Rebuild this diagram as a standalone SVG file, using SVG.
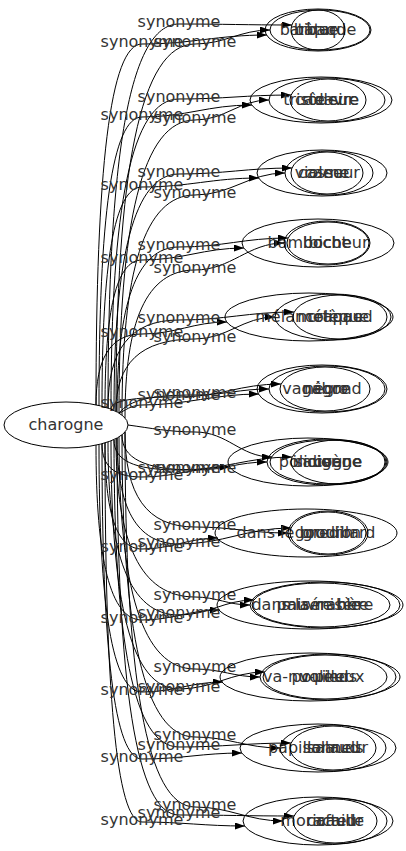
<svg xmlns="http://www.w3.org/2000/svg" width="406" height="851" viewBox="0 0 406 851">
<defs>
<marker id="ah" markerWidth="10" markerHeight="7" refX="10" refY="3.5" orient="auto" markerUnits="userSpaceOnUse"><path d="M0,0 L10,3.5 L0,7 z" fill="#000"/></marker>
<style>
.e{fill:none;stroke:#000;stroke-width:1;marker-end:url(#ah)}
.n{fill:none;stroke:#000;stroke-width:1}
.t{font-family:"DejaVu Sans",sans-serif;font-size:16px;fill:#333;text-anchor:middle}
</style>
</defs>
<rect width="406" height="851" fill="#fff"/>
<g id="edges">
<path class="e" d="M108 408 C108 158 129 24 179 24 C224 24 247 25 292 25"/>
<path class="e" d="M96 405 C96 170 110 44 142 44 C192 44 217 35 267 35"/>
<path class="e" d="M116 411 C116 172 140 44 195 44 C225 44 240 30 270 30"/>
<path class="e" d="M111 409 C111 208 131 99 179 99 C224 99 246 95 291 95"/>
<path class="e" d="M99 406 C99 218 112 117 142 117 C186 117 208 105 252 105"/>
<path class="e" d="M119 413 C119 223 142 120 195 120 C225 120 239 100 269 100"/>
<path class="e" d="M114 410 C114 257 134 174 179 174 C224 174 247 168 292 168"/>
<path class="e" d="M102 406 C102 264 114 187 142 187 C189 187 212 178 259 178"/>
<path class="e" d="M122 415 C122 272 144 195 195 195 C231 195 249 173 285 173"/>
<path class="e" d="M117 412 C117 305 136 247 179 247 C223 247 244 238 288 238"/>
<path class="e" d="M105 407 C105 311 116 260 142 260 C183 260 203 248 244 248"/>
<path class="e" d="M125 418 C125 322 146 270 195 270 C231 270 248 243 284 243"/>
<path class="e" d="M108 408 C108 351 129 320 179 320 C225 320 248 312 294 312"/>
<path class="e" d="M96 405 C96 359 110 334 142 334 C176 334 193 322 227 322"/>
<path class="e" d="M116 411 C116 364 140 339 195 339 C227 339 243 317 275 317"/>
<path class="e" d="M111 409 C111 401 131 397 179 397 C220 397 240 384 281 384"/>
<path class="e" d="M120 413 C128 408 134 405 142 405 C186 405 215 394 259 394"/>
<path class="e" d="M119 413 C130 400 150 395 195 395 C225 395 239 389 269 389"/>
<path class="e" d="M114 440 C114 460 133 470 179 470 C224 470 247 457 292 457"/>
<path class="e" d="M102 444 C102 466 114 477 142 477 C177 477 195 467 230 467"/>
<path class="e" d="M122 435 C122 458 144 470 195 470 C224 470 238 462 267 462"/>
<path class="e" d="M128 425 C150 428 170 432 195 432 C228 432 240 457 272 457"/>
<path class="e" d="M117 438 C117 507 136 544 179 544 C224 544 246 528 291 528"/>
<path class="e" d="M105 443 C105 512 116 549 142 549 C172 549 188 538 218 538"/>
<path class="e" d="M125 432 C125 494 146 527 195 527 C232 527 251 533 288 533"/>
<path class="e" d="M108 442 C108 554 129 615 179 615 C209 615 224 600 254 600"/>
<path class="e" d="M96 445 C96 559 110 620 142 620 C173 620 189 610 220 610"/>
<path class="e" d="M116 439 C116 542 140 597 195 597 C217 597 228 605 250 605"/>
<path class="e" d="M111 441 C111 602 131 689 179 689 C213 689 231 672 265 672"/>
<path class="e" d="M99 445 C99 606 112 692 142 692 C174 692 191 682 223 682"/>
<path class="e" d="M119 437 C119 588 142 669 195 669 C221 669 234 677 260 677"/>
<path class="e" d="M114 440 C114 640 133 747 179 747 C224 747 246 743 291 743"/>
<path class="e" d="M102 444 C102 649 114 759 142 759 C182 759 202 753 242 753"/>
<path class="e" d="M122 435 C122 631 144 737 195 737 C229 737 246 748 280 748"/>
<path class="e" d="M117 438 C117 683 136 815 179 815 C225 815 248 816 294 816"/>
<path class="e" d="M105 443 C105 689 116 822 142 822 C183 822 204 826 245 826"/>
<path class="e" d="M125 432 C125 676 146 807 195 807 C230 807 248 821 283 821"/>
</g>
<g id="edge-labels">
<text class="t" x="179" y="27">synonyme</text>
<text class="t" x="142" y="47">synonyme</text>
<text class="t" x="195" y="47">synonyme</text>
<text class="t" x="179" y="102">synonyme</text>
<text class="t" x="142" y="120">synonyme</text>
<text class="t" x="195" y="123">synonyme</text>
<text class="t" x="179" y="177">synonyme</text>
<text class="t" x="142" y="190">synonyme</text>
<text class="t" x="195" y="198">synonyme</text>
<text class="t" x="179" y="250">synonyme</text>
<text class="t" x="142" y="263">synonyme</text>
<text class="t" x="195" y="273">synonyme</text>
<text class="t" x="179" y="323">synonyme</text>
<text class="t" x="142" y="337">synonyme</text>
<text class="t" x="195" y="342">synonyme</text>
<text class="t" x="179" y="400">synonyme</text>
<text class="t" x="142" y="408">synonyme</text>
<text class="t" x="195" y="398">synonyme</text>
<text class="t" x="179" y="473">synonyme</text>
<text class="t" x="142" y="480">synonyme</text>
<text class="t" x="195" y="473">synonyme</text>
<text class="t" x="195" y="435">synonyme</text>
<text class="t" x="179" y="547">synonyme</text>
<text class="t" x="142" y="552">synonyme</text>
<text class="t" x="195" y="530">synonyme</text>
<text class="t" x="179" y="618">synonyme</text>
<text class="t" x="142" y="623">synonyme</text>
<text class="t" x="195" y="600">synonyme</text>
<text class="t" x="179" y="692">synonyme</text>
<text class="t" x="142" y="695">synonyme</text>
<text class="t" x="195" y="672">synonyme</text>
<text class="t" x="179" y="750">synonyme</text>
<text class="t" x="142" y="762">synonyme</text>
<text class="t" x="195" y="740">synonyme</text>
<text class="t" x="179" y="818">synonyme</text>
<text class="t" x="142" y="825">synonyme</text>
<text class="t" x="195" y="810">synonyme</text>
</g>
<g id="charogne"><ellipse class="n" cx="66" cy="425" rx="62" ry="23"/><text class="t" x="66" y="430">charogne</text></g>
<g id="n1a"><ellipse class="n" cx="318" cy="30" rx="53" ry="21"/><text class="t" x="318" y="35">barbaque</text></g>
<g id="n1b"><ellipse class="n" cx="320" cy="30" rx="50" ry="20"/><text class="t" x="320" y="35">bâtard</text></g>
<g id="n1c"><ellipse class="n" cx="318" cy="30" rx="27" ry="20"/><text class="t" x="318" y="35">tique</text></g>
<g id="n2a"><ellipse class="n" cx="321" cy="100" rx="71" ry="23"/><text class="t" x="321" y="105">triste sire</text></g>
<g id="n2b"><ellipse class="n" cx="327" cy="100" rx="58" ry="22"/><text class="t" x="327" y="105">cadavre</text></g>
<g id="n2c"><ellipse class="n" cx="328" cy="100" rx="38" ry="21"/><text class="t" x="328" y="105">rôdeur</text></g>
<g id="n3a"><ellipse class="n" cx="322" cy="173" rx="65" ry="23"/><text class="t" x="322" y="178">violeur</text></g>
<g id="n3b"><ellipse class="n" cx="329" cy="173" rx="44" ry="22"/><text class="t" x="329" y="178">casseur</text></g>
<g id="n3c"><ellipse class="n" cx="327" cy="173" rx="36" ry="21"/><text class="t" x="327" y="178">carne</text></g>
<g id="n4a"><ellipse class="n" cx="318" cy="243" rx="76" ry="24"/><text class="t" x="318" y="248">bambocheur</text></g>
<g id="n4b"><ellipse class="n" cx="327" cy="243" rx="43" ry="22"/><text class="t" x="327" y="248">boche</text></g>
<g id="n4c"><ellipse class="n" cx="328" cy="243" rx="41" ry="21"/><text class="t" x="328" y="248">bicot</text></g>
<g id="n5a"><ellipse class="n" cx="309" cy="317" rx="84" ry="24"/><text class="t" x="309" y="322">mélancolique</text></g>
<g id="n5b"><ellipse class="n" cx="333" cy="317" rx="58" ry="23"/><text class="t" x="333" y="322">métèque</text></g>
<g id="n5c"><ellipse class="n" cx="340" cy="317" rx="47" ry="22"/><text class="t" x="340" y="322">crapaud</text></g>
<g id="n6a"><ellipse class="n" cx="322" cy="389" rx="65" ry="24"/><text class="t" x="322" y="394">vagabond</text></g>
<g id="n6b"><ellipse class="n" cx="327" cy="389" rx="58" ry="23"/><text class="t" x="327" y="394">nègre</text></g>
<g id="n6c"><ellipse class="n" cx="325" cy="389" rx="45" ry="22"/><text class="t" x="325" y="394">négro</text></g>
<g id="n7a"><ellipse class="n" cx="308" cy="462" rx="80" ry="24"/><text class="t" x="308" y="467">policier</text></g>
<g id="n7b"><ellipse class="n" cx="327" cy="462" rx="60" ry="23"/><text class="t" x="327" y="467">indigène</text></g>
<g id="n7c"><ellipse class="n" cx="328" cy="462" rx="58" ry="22"/><text class="t" x="328" y="467">sauvage</text></g>
<g id="n7d"><ellipse class="n" cx="338" cy="462" rx="47" ry="22"/><text class="t" x="338" y="467">cogne</text></g>
<g id="n8a"><ellipse class="n" cx="306" cy="533" rx="91" ry="24"/><text class="t" x="306" y="538">dans le brouillard</text></g>
<g id="n8b"><ellipse class="n" cx="328" cy="533" rx="40" ry="22"/><text class="t" x="328" y="538">gredin</text></g>
<g id="n8c"><ellipse class="n" cx="328" cy="533" rx="38" ry="21"/><text class="t" x="328" y="538">goudron</text></g>
<g id="n9a"><ellipse class="n" cx="310" cy="605" rx="93" ry="24"/><text class="t" x="310" y="610">dans la misère</text></g>
<g id="n9b"><ellipse class="n" cx="325" cy="605" rx="75" ry="23"/><text class="t" x="325" y="610">pauvre hère</text></g>
<g id="n9c"><ellipse class="n" cx="321" cy="605" rx="69" ry="22"/><text class="t" x="321" y="610">misérable</text></g>
<g id="n10a"><ellipse class="n" cx="310" cy="677" rx="90" ry="24"/><text class="t" x="310" y="682">va-nu-pieds</text></g>
<g id="n10b"><ellipse class="n" cx="328" cy="677" rx="68" ry="23"/><text class="t" x="328" y="682">pouilleux</text></g>
<g id="n10c"><ellipse class="n" cx="325" cy="677" rx="62" ry="22"/><text class="t" x="325" y="682">voleur</text></g>
<g id="n11a"><ellipse class="n" cx="318" cy="748" rx="78" ry="24"/><text class="t" x="318" y="753">papillonneur</text></g>
<g id="n11b"><ellipse class="n" cx="333" cy="748" rx="53" ry="23"/><text class="t" x="333" y="753">salauds</text></g>
<g id="n11c"><ellipse class="n" cx="333" cy="748" rx="43" ry="22"/><text class="t" x="333" y="753">salaud</text></g>
<g id="n12a"><ellipse class="n" cx="318" cy="821" rx="75" ry="24"/><text class="t" x="318" y="826">moricaud</text></g>
<g id="n12b"><ellipse class="n" cx="335" cy="821" rx="52" ry="23"/><text class="t" x="335" y="826">racaille</text></g>
<g id="n12c"><ellipse class="n" cx="335" cy="821" rx="42" ry="22"/><text class="t" x="335" y="826">cafteur</text></g>
</svg>
